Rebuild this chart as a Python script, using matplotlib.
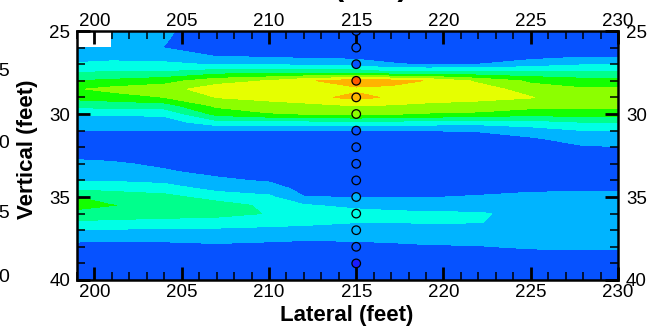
import numpy as np
import matplotlib
matplotlib.use("Agg")
import matplotlib.pyplot as plt
from matplotlib.colors import ListedColormap, BoundaryNorm
from matplotlib.ticker import MultipleLocator

# ---- data -------------------------------------------------------------
lateral_ft = [199, 201, 204, 207, 210, 212, 215, 217, 219, 222, 225, 228, 230]
vertical_ft = [25.0, 25.5, 26.0, 26.5, 27.0, 27.5, 28.0, 28.5, 29.0, 29.5,
               30.0, 30.5, 31.0, 31.5, 32.0, 32.5, 33.0, 33.5, 34.0, 34.5,
               35.0, 35.5, 36.0, 36.5, 37.0, 37.5, 38.0, 38.5, 39.0, 39.5, 40.0]

nan = float("nan")
v199 = [nan, nan, 1.3, 1.6, 2.1, 3.0, 4.0, 4.9, 4.3, 3.3, 2.1, 1.5, 1.0, 0.6, 0.5,
        0.8, 1.2, 1.5, 1.95, 2.8, 4.0, 4.4, 3.6, 2.9, 1.9, 1.3, 0.6, 0.4, 0.3, 0.3, 0.3]
v201 = [1.3, 1.3, 1.4, 1.7, 2.2, 3.1, 4.2, 5.3, 4.5, 3.4, 2.1, 1.5, 1.0, 0.6, 0.5,
        0.75, 1.1, 1.45, 1.9, 2.7, 3.6, 4.02, 3.5, 2.8, 1.9, 1.2, 0.6, 0.4, 0.3, 0.3, 0.3]
v204 = [1.1, 1.05, 0.98, 1.5, 2.2, 3.1, 4.6, 5.6, 5.0, 3.5, 2.2, 1.5, 1.0, 0.5, 0.4,
        0.6, 0.85, 1.1, 1.7, 2.5, 3.3, 3.8, 3.4, 2.7, 1.8, 1.2, 0.7, 0.4, 0.3, 0.3, 0.3]
v207 = [0.6, 0.55, 0.7, 0.95, 1.9, 3.6, 5.6, 6.5, 6.02, 5.2, 4.3, 2.6, 1.0, 0.5, 0.4,
        0.4, 0.6, 0.8, 1.15, 1.7, 2.6, 3.4, 3.3, 2.6, 1.8, 1.3, 0.8, 0.5, 0.3, 0.3, 0.3]
v210 = [0.5, 0.5, 0.6, 0.8, 1.9, 3.8, 6.05, 6.6, 6.3, 5.6, 4.9, 2.5, 1.0, 0.5, 0.4,
        0.4, 0.45, 0.6, 0.9, 1.4, 2.2, 2.8, 2.95, 2.4, 1.7, 1.2, 0.7, 0.45, 0.3, 0.3, 0.3]
v212 = [0.5, 0.5, 0.55, 0.7, 1.75, 3.7, 6.8, 6.6, 6.6, 5.7, 5.02, 2.6, 1.0, 0.5, 0.4,
        0.35, 0.35, 0.4, 0.5, 0.75, 1.02, 2.1, 2.6, 2.3, 1.6, 1.1, 0.7, 0.45, 0.3, 0.3, 0.3]
v215 = [0.4, 0.4, 0.45, 0.6, 1.6, 3.7, 7.6, 6.8, 7.3, 6.02, 5.15, 2.8, 1.0, 0.5, 0.35,
        0.3, 0.3, 0.35, 0.4, 0.7, 0.98, 1.7, 2.4, 2.05, 1.5, 1.15, 0.7, 0.4, 0.3, 0.3, 0.3]
v217 = [0.4, 0.4, 0.4, 0.5, 1.1, 3.2, 7.4, 6.7, 6.85, 5.9, 5.05, 2.7, 1.0, 0.55, 0.4,
        0.3, 0.3, 0.35, 0.4, 0.6, 0.95, 1.5, 2.3, 2.02, 1.5, 1.2, 0.8, 0.5, 0.3, 0.3, 0.3]
v219 = [0.4, 0.4, 0.4, 0.5, 0.9, 3.3, 6.95, 6.7, 6.4, 5.8, 4.9, 2.5, 1.0, 0.6, 0.4,
        0.35, 0.3, 0.35, 0.45, 0.6, 0.97, 1.5, 2.15, 2.1, 1.6, 1.25, 0.9, 0.5, 0.3, 0.3, 0.3]
v222 = [0.45, 0.45, 0.45, 0.6, 1.0, 3.2, 5.8, 6.5, 6.3, 5.6, 4.8, 2.4, 1.05, 0.7, 0.4,
        0.35, 0.35, 0.4, 0.5, 0.8, 1.05, 1.5, 2.1, 2.05, 1.6, 1.3, 0.95, 0.6, 0.35, 0.3, 0.3]
v225 = [0.45, 0.45, 0.45, 0.6, 1.5, 3.2, 4.8, 5.5, 6.05, 5.4, 4.3, 2.6, 1.5, 0.85, 0.5,
        0.4, 0.4, 0.4, 0.5, 0.85, 1.2, 1.5, 1.7, 1.6, 1.5, 1.3, 1.1, 0.7, 0.45, 0.35, 0.3]
v228 = [0.45, 0.45, 0.5, 0.85, 1.9, 3.1, 4.4, 5.1, 5.4, 5.2, 4.5, 2.98, 1.98, 1.4, 0.9,
        0.6, 0.45, 0.4, 0.5, 0.9, 1.2, 1.5, 1.7, 1.6, 1.5, 1.35, 1.15, 0.75, 0.45, 0.35, 0.3]
v230 = [0.45, 0.45, 0.5, 0.85, 1.9, 3.1, 4.4, 5.1, 5.4, 5.2, 4.5, 2.98, 1.98, 1.45, 0.95,
        0.6, 0.45, 0.4, 0.5, 0.9, 1.2, 1.5, 1.7, 1.6, 1.5, 1.35, 1.15, 0.75, 0.45, 0.35, 0.3]

probe_lateral = 215
probe_depth = [25, 26, 27, 28, 29, 30, 31, 32, 33, 34, 35, 36, 37, 38, 39]
probe_value = [0.3, 0.4, 0.8, 8.3, 7.4, 5.3, 0.8, 0.3, 0.4, 0.7, 1.2, 2.3, 1.4, 0.6, -0.3]

level_bounds = [0, 1, 2, 3, 4, 5, 6, 7, 8, 9]
level_colors = ["#0652ff", "#00b4ff", "#00ffe6", "#00ff8c", "#14ff00",
                "#8cff00", "#e6ff00", "#ffb400", "#ff5a00"]
under_color = "#1a1aff"

x_ticks = [200, 205, 210, 215, 220, 225, 230]
y_ticks = [25, 30, 35, 40]

# ---- figure -----------------------------------------------------------
plt.rcParams["font.family"] = ["Liberation Sans", "DejaVu Sans"]
W, H = 650, 330
fig = plt.figure(figsize=(W / 100, H / 100), dpi=100)
L, R, T, B = 77, 618, 31, 280
ax = fig.add_axes([L / W, 1 - B / H, (R - L) / W, (B - T) / H])
ax.set_facecolor("white")

columns = [v199, v201, v204, v207, v210, v212, v215, v217, v219, v222, v225, v228, v230]
Z = np.ma.masked_invalid(np.array(columns, dtype=float).T)
X, Y = np.meshgrid(np.array(lateral_ft, float), np.array(vertical_ft, float))

cmap = ListedColormap(level_colors)
cmap.set_under(under_color)
norm = BoundaryNorm(level_bounds, cmap.N)

ax.contourf(X, Y, Z, levels=level_bounds, cmap=cmap, norm=norm,
            antialiased=False, corner_mask=False)

ax.scatter([probe_lateral] * len(probe_depth), probe_depth, c=probe_value,
           cmap=cmap, norm=norm, s=38, edgecolors="black", linewidths=0.9,
           zorder=4, clip_on=True)

ax.set_xlim(199, 230)
ax.set_ylim(40, 25)

ax.xaxis.set_major_locator(MultipleLocator(5))
ax.xaxis.set_minor_locator(MultipleLocator(1))
ax.yaxis.set_major_locator(MultipleLocator(5))
ax.yaxis.set_minor_locator(MultipleLocator(1))
ax.set_xticks(x_ticks)
ax.set_yticks(y_ticks)

ax.tick_params(which="both", direction="in", top=True, right=True,
               bottom=True, left=True, colors="black", zorder=5)
ax.tick_params(which="major", length=9.5, width=2.0)
ax.tick_params(which="minor", length=5.8, width=1.1)
ax.tick_params(axis="x", which="major", labelsize=13.5, pad=3.2,
               labelbottom=True, labeltop=False)
ax.tick_params(axis="y", which="major", labelsize=13.5, pad=5,
               labelleft=True, labelright=False)
for s in ax.spines.values():
    s.set_linewidth(1.8)
    s.set_zorder(6)

# top tick labels
secx = ax.secondary_xaxis("top")
secx.set_xticks(x_ticks)
secx.tick_params(length=0, labelsize=13.5, pad=0.8)
secx.spines["top"].set_visible(False)
# right tick labels
secy = ax.secondary_yaxis("right")
secy.set_yticks(y_ticks)
secy.tick_params(length=0, labelsize=13.5, pad=5.8)
secy.spines["right"].set_visible(False)

fig.text(346.5 / W, 1 - 321.5 / H, "Lateral (feet)", ha="center", va="baseline",
         fontsize=16, fontweight="bold")
fig.text(27.5 / W, 1 - 149.5 / H, "Vertical (feet)", ha="center", va="center",
         rotation=90, fontsize=16, fontweight="bold")

# clipped remnants at the edges of the picture
fig.text(370.5 / W, 1 + 5 / H, "(feet)", ha="center", va="baseline",
         fontsize=22, fontweight="bold")
for yy, lab in zip([71, 144, 214, 278], ["25", "30", "35", "40"]):
    fig.text(10 / W, 1 - yy / H, lab, ha="right", va="center", fontsize=14)

fig.savefig("out.png", dpi=100)
